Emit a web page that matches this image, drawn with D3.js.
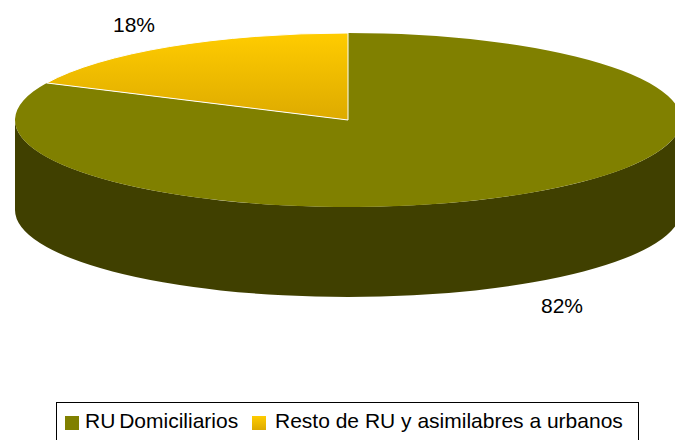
<!DOCTYPE html>
<html><head><meta charset="utf-8">
<script src="https://cdn.jsdelivr.net/npm/d3@7"></script>
<style>body{margin:0;background:#fff}svg{display:block}text{font-family:"Liberation Sans",Arial,sans-serif}</style>
</head><body>
<script>
const categories = ["RU Domiciliarios", "Resto de RU y asimilabres a urbanos"];
const values = [82, 18];
const percentLabels = ["82%", "18%"];

const W = 675, H = 440;
const cx = 348, cy = 120, rx = 333, ry = 87, depth = 90;
const sideColor = "#404000";

const svg = d3.select("body").append("svg").attr("width", W).attr("height", H);
const defs = svg.append("defs");
const grad = defs.append("linearGradient").attr("id", "yel").attr("x1", 0).attr("y1", 0).attr("x2", 0).attr("y2", 1);
grad.append("stop").attr("offset", "0%").attr("stop-color", "#FFCC00");
grad.append("stop").attr("offset", "100%").attr("stop-color", "#DDAA00");

const pie = d3.pie().sort(null).value(d => d)(values);
const pt = (a, dy = 0) => [cx + rx * Math.sin(a), cy - ry * Math.cos(a) + dy];

// side (front half) for each slice
pie.forEach((s, i) => {
  const a0 = Math.max(s.startAngle, Math.PI / 2), a1 = Math.min(s.endAngle, 3 * Math.PI / 2);
  if (a1 <= a0) return;
  const p0 = pt(a0), p1 = pt(a1), q1 = pt(a1, depth), q0 = pt(a0, depth);
  const large = (a1 - a0) > Math.PI ? 1 : 0;
  const path = `M${p0}A${rx},${ry} 0 ${large} 1 ${p1}L${q1}A${rx},${ry} 0 ${large} 0 ${q0}Z`;
  svg.append("path").attr("d", path).attr("fill", i === 0 ? sideColor : "#8a6f00");
});

// top faces
pie.forEach((s, i) => {
  const p0 = pt(s.startAngle), p1 = pt(s.endAngle);
  const large = (s.endAngle - s.startAngle) > Math.PI ? 1 : 0;
  const path = `M${cx},${cy}L${p0}A${rx},${ry} 0 ${large} 1 ${p1}Z`;
  const p = svg.append("path").attr("d", path).attr("fill", i === 0 ? "#808000" : "url(#yel)");
  if (i === 1) p.attr("stroke", "#fff").attr("stroke-width", 1);
});

// percent labels
const labelPos = [[562, 313], [134, 32]];
percentLabels.forEach((t, i) => {
  svg.append("text").attr("x", labelPos[i][0]).attr("y", labelPos[i][1]).attr("text-anchor", "middle")
    .attr("font-size", 21).attr("fill", "#000").text(t);
});

// legend
const lg = svg.append("g");
lg.append("rect").attr("x", 56.5).attr("y", 402.5).attr("width", 582).attr("height", 50)
  .attr("fill", "#fff").attr("stroke", "#000").attr("stroke-width", 1);
const swatchX = [65, 252];
const textX = [85, 275];
const wordSp = [-2, 0];
const swatchFill = ["#808000", "url(#yel)"];
categories.forEach((c, i) => {
  lg.append("rect").attr("x", swatchX[i]).attr("y", 416).attr("width", 14).attr("height", 14).attr("fill", swatchFill[i]);
  lg.append("text").attr("x", textX[i]).attr("y", 428).attr("font-size", 21).attr("fill", "#000")
    .attr("word-spacing", wordSp[i]).text(c);
});
</script>
</body></html>
